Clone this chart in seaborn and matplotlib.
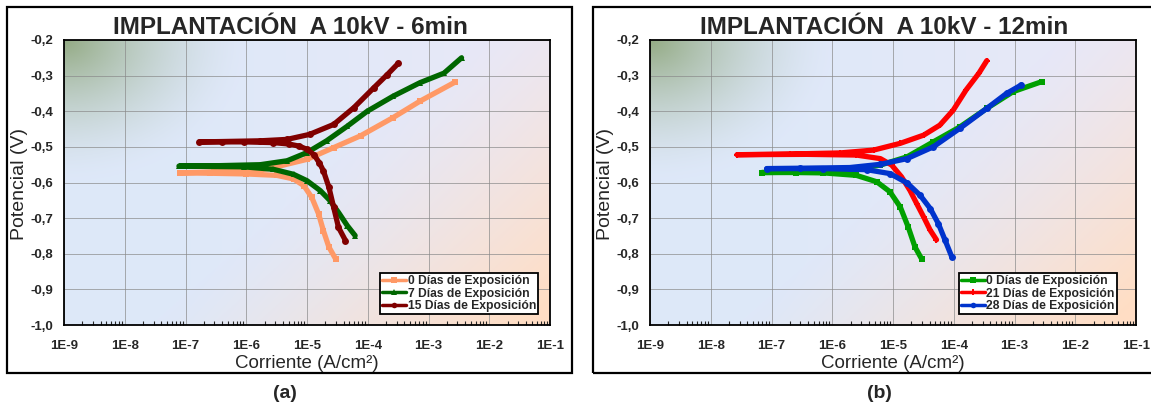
import numpy as np
import pandas as pd
import seaborn as sns
import matplotlib.pyplot as plt
from matplotlib.patches import Rectangle

# ---- datos (corriente A/cm2, potencial V) ----
# (a) implantacion 6 min
a0_cat_i = [2.95e-5, 2.29e-5, 1.86e-5, 1.55e-5, 1.20e-5, 8.9e-6, 6.0e-6, 3.2e-6, 1.0e-6, 2.5e-7, 8.1e-8]
a0_cat_e = [-0.814, -0.781, -0.735, -0.688, -0.642, -0.609, -0.590, -0.580, -0.576, -0.574, -0.573]
a0_an_i = [3.0e-7, 1.5e-6, 2.5e-6, 1.0e-5, 2.75e-5, 7.6e-5, 2.6e-4, 7.2e-4, 2.75e-3]
a0_an_e = [-0.570, -0.566, -0.560, -0.535, -0.502, -0.469, -0.418, -0.372, -0.318]

a7_cat_i = [6.2e-5, 4.6e-5, 3.3e-5, 2.4e-5, 1.66e-5, 1.0e-5, 6.0e-6, 2.8e-6, 9.1e-7, 2.5e-7, 7.8e-8]
a7_cat_e = [-0.749, -0.721, -0.684, -0.651, -0.623, -0.595, -0.577, -0.563, -0.556, -0.555, -0.554]
a7_an_i = [3.0e-7, 1.7e-6, 4.7e-6, 1.0e-5, 2.1e-5, 4.6e-5, 9.8e-5, 2.6e-4, 7.2e-4, 1.8e-3, 3.5e-3]
a7_an_e = [-0.553, -0.550, -0.539, -0.516, -0.483, -0.442, -0.400, -0.358, -0.320, -0.293, -0.250]

a15_cat_i = [4.3e-5, 3.3e-5, 2.75e-5, 2.3e-5, 1.86e-5, 1.6e-5, 1.3e-5, 1.0e-5, 7.5e-6, 5.0e-6, 2.8e-6, 9.1e-7, 1.7e-7]
a15_cat_e = [-0.763, -0.726, -0.670, -0.614, -0.567, -0.545, -0.522, -0.507, -0.498, -0.492, -0.488, -0.486, -0.486]
a15_an_i = [4.0e-7, 1.7e-6, 4.7e-6, 1.1e-5, 2.75e-5, 5.9e-5, 1.26e-4, 2.1e-4, 3.2e-4]
a15_an_e = [-0.485, -0.483, -0.479, -0.465, -0.437, -0.390, -0.334, -0.297, -0.265]

# (b) implantacion 12 min
b0_cat_i = [2.95e-5, 2.3e-5, 1.78e-5, 1.32e-5, 8.9e-6, 5.4e-6, 2.5e-6, 7.1e-7, 2.5e-7, 6.9e-8]
b0_cat_e = [-0.814, -0.781, -0.725, -0.669, -0.626, -0.598, -0.580, -0.573, -0.572, -0.572]
b0_an_i = [3.0e-7, 1.95e-6, 6.2e-6, 1.7e-5, 4.6e-5, 1.26e-4, 3.5e-4, 9.5e-4, 2.8e-3]
b0_an_e = [-0.571, -0.565, -0.551, -0.528, -0.486, -0.444, -0.392, -0.345, -0.317]

b21_cat_i = [5.2e-5, 4.1e-5, 3.2e-5, 2.45e-5, 1.9e-5, 1.38e-5, 9.5e-6, 6.2e-6, 2.5e-6, 3.8e-7, 2.7e-8]
b21_cat_e = [-0.761, -0.734, -0.697, -0.659, -0.622, -0.584, -0.551, -0.533, -0.523, -0.521, -0.522]
b21_an_i = [2.0e-7, 1.35e-6, 4.8e-6, 1.32e-5, 3.2e-5, 5.9e-5, 9.8e-5, 1.6e-4, 2.6e-4, 3.5e-4]
b21_an_e = [-0.520, -0.517, -0.509, -0.490, -0.467, -0.439, -0.397, -0.340, -0.293, -0.258]

b28_cat_i = [9.3e-5, 7.2e-5, 5.6e-5, 4.1e-5, 2.8e-5, 1.7e-5, 8.9e-6, 3.7e-6, 7.1e-7, 8.3e-8]
b28_cat_e = [-0.809, -0.762, -0.716, -0.673, -0.636, -0.601, -0.575, -0.564, -0.561, -0.561]
b28_an_i = [3.0e-7, 1.95e-6, 6.2e-6, 1.7e-5, 4.6e-5, 1.26e-4, 3.5e-4, 7.4e-4, 1.3e-3]
b28_an_e = [-0.560, -0.558, -0.549, -0.533, -0.500, -0.448, -0.392, -0.350, -0.326]

labels_a = ["0 Días de Exposición", "7 Días de Exposición", "15 Días de Exposición"]
labels_b = ["0 Días de Exposición", "21 Días de Exposición", "28 Días de Exposición"]
colors_a = ["#ff9966", "#006600", "#800000"]
colors_b = ["#00a000", "#ff0000", "#0033cc"]
markers_a = ["s", "^", "o"]
markers_b = ["s", "P", "o"]

xticks = [1e-9, 1e-8, 1e-7, 1e-6, 1e-5, 1e-4, 1e-3, 1e-2, 1e-1]
xticklabels = ["1E-9", "1E-8", "1E-7", "1E-6", "1E-5", "1E-4", "1E-3", "1E-2", "1E-1"]
yticks = [-1.0, -0.9, -0.8, -0.7, -0.6, -0.5, -0.4, -0.3, -0.2]
yticklabels = ["-1,0", "-0,9", "-0,8", "-0,7", "-0,6", "-0,5", "-0,4", "-0,3", "-0,2"]


def build(series, labels):
    frames = []
    for (ci, ce, ai, ae), lab in zip(series, labels):
        frames.append(pd.DataFrame({"I": ci + ai, "E": ce + ae, "serie": lab}))
    return pd.concat(frames, ignore_index=True)


df_a = build([(a0_cat_i, a0_cat_e, a0_an_i, a0_an_e),
              (a7_cat_i, a7_cat_e, a7_an_i, a7_an_e),
              (a15_cat_i, a15_cat_e, a15_an_i, a15_an_e)], labels_a)
df_b = build([(b0_cat_i, b0_cat_e, b0_an_i, b0_an_e),
              (b21_cat_i, b21_cat_e, b21_an_i, b21_an_e),
              (b28_cat_i, b28_cat_e, b28_an_i, b28_an_e)], labels_b)

sns.set_style("white")
plt.rcParams["font.family"] = ["Liberation Sans", "DejaVu Sans"]

W, H = 1151, 407
fig = plt.figure(figsize=(W / 100, H / 100), dpi=100)


def gradient():
    # fondo degradado tipo Excel: verde arriba-izq, azul claro, melocoton abajo-der
    u, v = np.meshgrid(np.linspace(0, 1, 300), np.linspace(0, 1, 200))
    blue = np.array([0.87, 0.91, 0.975])
    lav = np.array([0.92, 0.91, 0.97])
    peach = np.array([1.0, 0.87, 0.77])
    green = np.array([0.58, 0.67, 0.52])
    img = blue + (lav - blue) * np.clip(u * 1.2 - 0.3, 0, 1)[..., None]
    o = np.clip((u * 0.9 + v * 0.6 - 0.75) / 0.7, 0, 1) ** 1.3
    img = img + (peach - img) * o[..., None]
    d = np.sqrt((u / 0.38) ** 2 + (v / 0.5) ** 2)
    g = np.clip(1 - d, 0, 1) ** 1.6
    img = img + (green - img) * g[..., None]
    return img


def panel(x0, df, colors, markers, labels, title, tag, tx, lx, frame_x0, frame_x1, leg_x):
    rect = [x0 / W, 1 - 325 / H, 486 / W, 285 / H]
    bg = fig.add_axes(rect, zorder=0)
    bg.imshow(gradient(), extent=(0, 1, 0, 1), aspect="auto", origin="upper")
    bg.set_axis_off()
    ax = fig.add_axes(rect, zorder=1)
    ax.set_facecolor("none")
    sns.lineplot(data=df, x="I", y="E", hue="serie", style="serie",
                 palette=dict(zip(labels, colors)),
                 markers=dict(zip(labels, markers)), dashes=False,
                 sort=False, estimator=None, lw=3.8, ms=5,
                 markeredgewidth=0, ax=ax)
    ax.set_xscale("log")
    ax.set_xlim(1e-9, 1e-1)
    ax.set_ylim(-1.0, -0.2)
    ax.set_xticks(xticks)
    ax.set_xticklabels(xticklabels, fontsize=9.5, fontweight="bold")
    ax.set_yticks(yticks)
    ax.set_yticklabels(yticklabels, fontsize=9.5, fontweight="bold")
    ax.tick_params(axis="x", which="major", direction="in", length=5, width=1, pad=11)
    ax.tick_params(axis="x", which="minor", direction="in", length=3, width=0.8, bottom=True)
    ax.tick_params(axis="y", direction="in", length=3, width=1.5, pad=8)
    ax.grid(True, which="major", color="#8a8a8a", lw=0.7, alpha=0.7)
    for s in ax.spines.values():
        s.set_color("black")
        s.set_linewidth(1.3)
    ax.set_xlabel("")
    ax.set_ylabel("")
    fig.text((x0 + 243) / W, 1 - 364 / H, "Corriente (A/cm²)", fontsize=13.5,
             ha="center", va="center")
    fig.text(lx / W, 1 - 184 / H, "Potencial (V)", fontsize=14, rotation=90,
             ha="center", va="center")
    h, l = ax.get_legend_handles_labels()
    leg = ax.legend(h, l, loc="lower right", bbox_to_anchor=(leg_x, 0.04),
                    prop={"size": 8.7, "weight": "bold"}, frameon=True, fancybox=False,
                    edgecolor="black", framealpha=1, borderpad=0.15, labelspacing=0.02,
                    handlelength=2.0, handletextpad=0.1, borderaxespad=0)
    leg.get_frame().set_linewidth(1.3)
    for line in leg.get_lines():
        line.set_linewidth(2.5)
        line.set_markersize(4)
    fig.text(tx / W, 1 - 27 / H, title, fontsize=17.5, fontweight="bold",
             ha="center", va="center")
    fig.text(tx / W - 5 / W, 1 - 394 / H, tag, fontsize=14, fontweight="bold",
             ha="center", va="center")
    fig.add_artist(Rectangle((frame_x0 / W, 1 - 373 / H), (frame_x1 - frame_x0) / W, 366 / H,
                             transform=fig.transFigure, fill=False, ec="black", lw=1.6))
    return ax


panel(64, df_a, colors_a, markers_a, labels_a, "IMPLANTACIÓN  A 10kV - 6min", "(a)",
      290, 20, 7, 572, 0.975)
panel(650, df_b, colors_b, markers_b, labels_b, "IMPLANTACIÓN  A 10kV - 12min", "(b)",
      884, 606, 593, 1160, 0.96)

fig.savefig("out.png", dpi=100)
